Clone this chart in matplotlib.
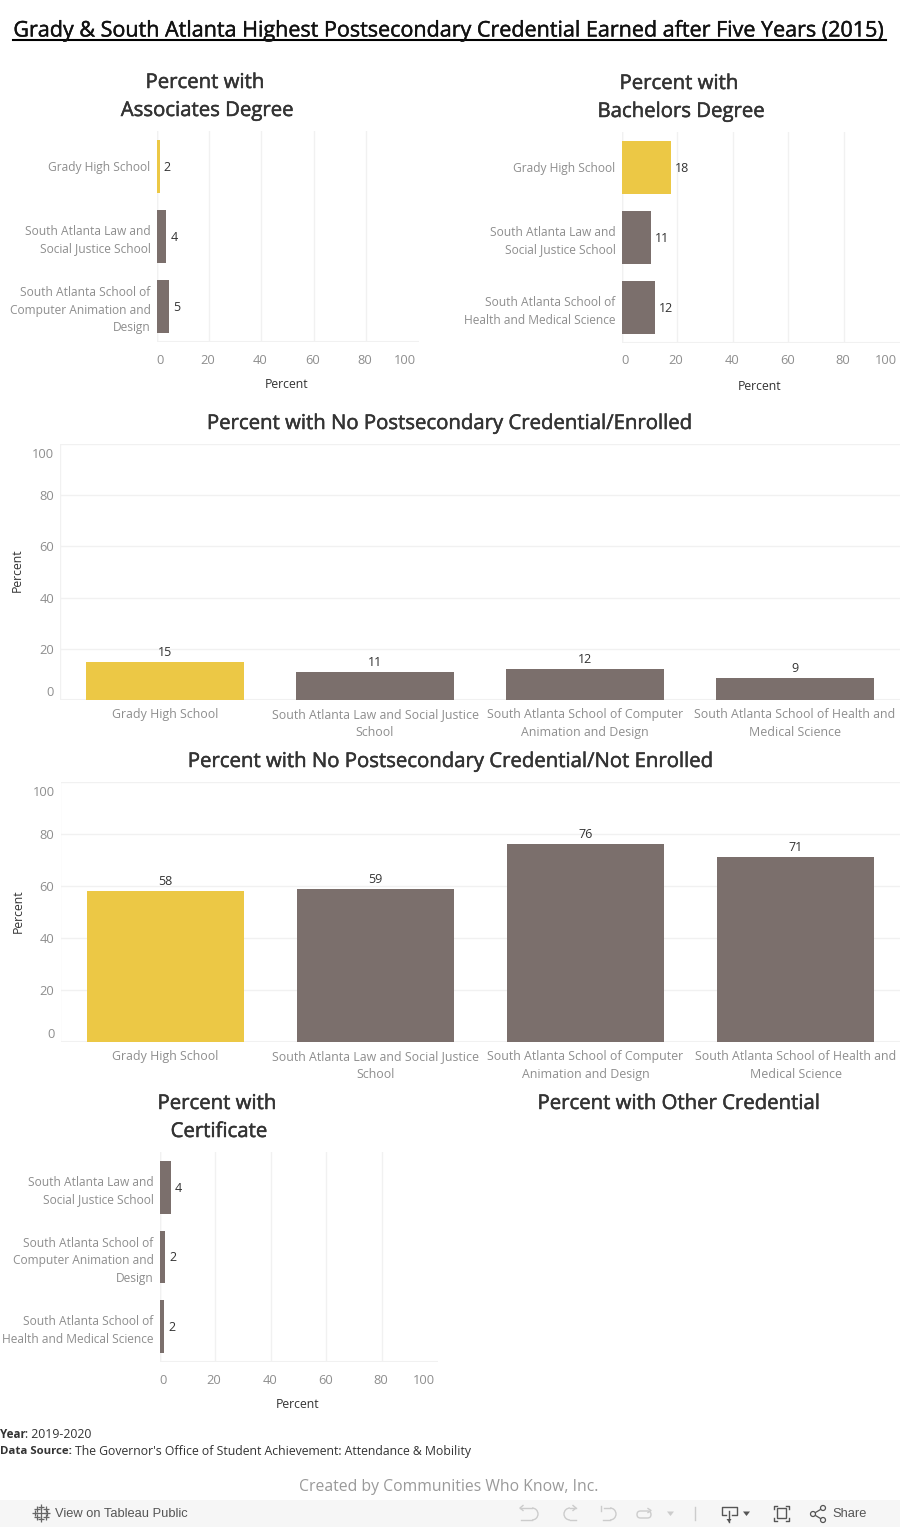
import matplotlib
matplotlib.use('AGG')
import matplotlib.pyplot as plt
import matplotlib.patheffects as pe
from matplotlib.patches import Rectangle, Circle, Arc, FancyBboxPatch, Polygon

W, H = 900, 1527

plt.rcParams['font.family'] = ['Open Sans', 'DejaVu Sans']

YELLOW = '#ecc845'
BROWN = '#7b6f6c'
GRID = '#f1f1f1'
GREY_TXT = '#8e8e8e'
DARK_TXT = '#333333'

# ---- data
assoc_names = ['Grady High School', 'South Atlanta Law and\nSocial Justice School',
               'South Atlanta School of\nComputer Animation and\nDesign']
assoc_values = [1.2, 3.8, 4.6]
assoc_labels = ['2', '4', '5']

bach_names = ['Grady High School', 'South Atlanta Law and\nSocial Justice School',
              'South Atlanta School of\nHealth and Medical Science']
bach_values = [17.7, 10.6, 12.0]
bach_labels = ['18', '11', '12']

enrolled_names = ['Grady High School', 'South Atlanta Law and Social Justice\nSchool',
                  'South Atlanta School of Computer\nAnimation and Design',
                  'South Atlanta School of Health and\nMedical Science']
enrolled_values = [14.8, 10.9, 12.0, 8.6]
enrolled_labels = ['15', '11', '12', '9']

not_enrolled_values = [58, 59, 76, 71]
not_enrolled_labels = ['58', '59', '76', '71']

cert_names = ['South Atlanta Law and\nSocial Justice School',
              'South Atlanta School of\nComputer Animation and\nDesign',
              'South Atlanta School of\nHealth and Medical Science']
cert_values = [4.0, 2.1, 1.6]
cert_labels = ['4', '2', '2']

axis_ticks = [0, 20, 40, 60, 80, 100]

fig = plt.figure(figsize=(W / 100, H / 100), dpi=100, facecolor='white')


# axes placed by pixel box, y measured from the top of the picture
def make_axes(left, top, right, bottom):
  return fig.add_axes([left / W, 1 - bottom / H, (right - left) / W, (bottom - top) / H])


def clean(ax):
  for s in ax.spines.values():
    s.set_visible(False)
  ax.set_axisbelow(True)
  ax.tick_params(length=0)


# horizontal bar panel
def hbar_panel(box, names, values, labels, colors, xlabel_x, xlabel_y):
  ax = make_axes(*box)
  clean(ax)
  pos = list(range(len(names)))
  ax.barh(pos, values, height=0.757, color=colors, zorder=3)
  ax.set_xlim(0, 100)
  ax.set_ylim(2.507, -0.507)
  ax.set_yticks(pos)
  ax.set_yticklabels(names, fontsize=8.65, color=GREY_TXT, linespacing=1.45)
  ax.tick_params(axis='y', pad=4.3)
  ax.set_xticks(axis_ticks[:-1])
  ax.set_xticklabels([])
  ax.grid(axis='x', color=GRID, lw=1)
  ax.axhline(2.507, color=GRID, lw=1.5, zorder=1)
  ax.axvline(0, color=GRID, lw=1, zorder=1)
  for p, v, t in zip(pos, values, labels):
    ax.annotate(t, (v, p), xytext=(3, -0.5), textcoords='offset points', va='center',
                fontsize=9, color=DARK_TXT, zorder=4)
  # tick labels stay inside the axis span, as in the original
  trans = ax.get_xaxis_transform()
  for t in axis_ticks:
    ha = 'left' if t == 0 else ('right' if t == 100 else 'center')
    ax.annotate(str(t), (t, 0), xycoords=trans, xytext=(0 if t == 0 else (-3 if t == 100 else -1), -18),
                textcoords='offset pixels', ha=ha, va='center', fontsize=9.3, color=GREY_TXT)
  over.text(xlabel_x, xlabel_y, 'Percent', ha='center', va='center', fontsize=8.8, color=DARK_TXT)
  return ax


# vertical bar panel
def vbar_panel(box, names, values, labels, ylabel_x, ylabel_y):
  ax = make_axes(*box)
  clean(ax)
  pos = list(range(len(names)))
  ax.bar(pos, values, width=0.75, color=[YELLOW, BROWN, BROWN, BROWN], zorder=3)
  ax.set_xlim(-0.5, 3.5)
  ax.set_ylim(0, 100)
  ax.set_yticks(axis_ticks)
  ax.set_yticklabels([])
  ax.set_xticks(pos)
  ax.set_xticklabels([])
  ax.grid(axis='y', color=GRID, lw=1)
  ax.axvline(-0.5, color=GRID, lw=1, zorder=1)
  ax.axhline(0, color=GRID, lw=1.5, zorder=1)
  trans = ax.get_yaxis_transform()
  for t in axis_ticks:
    va = 'bottom' if t == 0 else ('top' if t == 100 else 'center')
    off = 1 if t == 0 else (-4 if t == 100 else -1.5)
    ax.annotate(str(t), (0, t), xycoords=trans, xytext=(-6, off), textcoords='offset pixels',
                ha='right', va=va, fontsize=9.3, color=GREY_TXT)
  for p, v, t in zip(pos, values, labels):
    ax.annotate(t, (p, v), xytext=(0, 3), textcoords='offset pixels', ha='center', va='bottom',
                fontsize=9, color=DARK_TXT)
  # category names, one text per line so the baselines are regular
  trans2 = ax.get_xaxis_transform()
  for p, n in zip(pos, names):
    for i, line in enumerate(n.split('\n')):
      ax.annotate(line, (p, 0), xycoords=trans2, xytext=(0, -18 - 18 * i), textcoords='offset pixels',
                  ha='center', va='baseline', fontsize=8.9, color=GREY_TXT, annotation_clip=False)
  over.text(ylabel_x, ylabel_y, 'Percent', rotation=90, ha='center', va='center',
            fontsize=8.8, color=DARK_TXT)
  return ax


# overlay in pixel coordinates for titles, footer and toolbar
over = fig.add_axes([0, 0, 1, 1], zorder=5)
over.set_xlim(0, W)
over.set_ylim(H, 0)
over.axis('off')
over.patch.set_alpha(0)

# the original titles are a little heavier than Open Sans regular
thicker = [pe.withStroke(linewidth=0.35, foreground=DARK_TXT)]

# main title
over.text(449.5, 31, 'Grady & South Atlanta Highest Postsecondary Credential Earned after Five Years (2015)',
          ha='center', va='center', fontsize=15.5, color='#111111',
          path_effects=[pe.withStroke(linewidth=0.3, foreground='#111111')])
over.plot([13, 886], [40, 40], color='black', lw=1.5)

# panel titles
title_style = dict(ha='center', va='center', fontsize=14.65, color=DARK_TXT, path_effects=thicker)
over.text(205, 83, 'Percent with', **title_style)
over.text(207, 111, 'Associates Degree', **title_style)
over.text(679, 84, 'Percent with', **title_style)
over.text(681, 112, 'Bachelors Degree', **title_style)
over.text(450, 424, 'Percent with No Postsecondary Credential/Enrolled', **title_style)
over.text(451, 762, 'Percent with No Postsecondary Credential/Not Enrolled', **title_style)
over.text(217, 1104, 'Percent with', **title_style)
over.text(219, 1132, 'Certificate', **title_style)
over.text(679, 1104, 'Percent with Other Credential', **title_style)

hbar_panel((156.5, 131, 418.5, 342), assoc_names, assoc_values, assoc_labels,
           [YELLOW, BROWN, BROWN], 287, 385)
hbar_panel((621.5, 132, 899.5, 343), bach_names, bach_values, bach_labels,
           [YELLOW, BROWN, BROWN], 760, 386)
vbar_panel((60, 444, 900, 700), enrolled_names, enrolled_values, enrolled_labels, 17, 570)
vbar_panel((60.5, 782, 900.5, 1042), enrolled_names, not_enrolled_values, not_enrolled_labels, 18, 911)
hbar_panel((159.5, 1152, 437.5, 1362), cert_names, cert_values, cert_labels,
           [BROWN, BROWN, BROWN], 298, 1405)

# footer notes
over.text(0, 1434, 'Year', fontsize=8.4, fontweight='bold', color=DARK_TXT, va='center')
over.text(25, 1434, ': 2019-2020', fontsize=8.85, color=DARK_TXT, va='center')
over.text(0, 1452, 'Data Source:', fontsize=8.2, fontweight='bold', color=DARK_TXT, va='center')
over.text(75, 1452, "The Governor's Office of Student Achievement: Attendance & Mobility",
          fontsize=8.85, color=DARK_TXT, va='center')
over.text(449, 1487, 'Created by Communities Who Know, Inc.', ha='center', va='center',
          fontsize=11.3, color='#9a9a9a')

# tableau toolbar
over.add_patch(Rectangle((0, 1500), W, 27, color='#f6f6f6', lw=0))
tool_font = ['Liberation Sans', 'DejaVu Sans']
over.text(55, 1514, 'View on Tableau Public', fontsize=9.3, color='#555555', va='center', family=tool_font)
over.text(832, 1514, 'Share', fontsize=9.3, color='#555555', va='center', family=tool_font)

LIGHT = '#cccccc'
ICON = '#555555'
# logo
for x, y, s in [(41, 1513, 8), (41, 1507, 5), (41, 1519, 5), (35, 1513, 5), (47, 1513, 5),
                (36.5, 1509, 4), (45.5, 1509, 4), (36.5, 1517, 4), (45.5, 1517, 4)]:
  over.plot([x], [y], marker='+', ms=s, mew=0.9, color='#666666')
# undo, redo, revert
over.plot([520, 532], [1508, 1508], color=LIGHT, lw=1)
over.plot([532, 521], [1520, 1520], color=LIGHT, lw=1)
over.add_patch(Arc((532, 1514), 12, 12, theta1=-90, theta2=90, color=LIGHT, lw=1))
over.plot([523, 520, 523], [1505.5, 1508, 1510.5], color=LIGHT, lw=1)
over.plot([576, 570], [1508, 1508], color=LIGHT, lw=1)
over.plot([570, 576], [1520, 1520], color=LIGHT, lw=1)
over.add_patch(Arc((570, 1514), 12, 12, theta1=90, theta2=270, color=LIGHT, lw=1))
over.plot([573, 576, 573], [1505.5, 1508, 1510.5], color=LIGHT, lw=1)
over.plot([601, 601], [1506, 1511], color=LIGHT, lw=1)
over.plot([604, 610], [1508, 1508], color=LIGHT, lw=1)
over.plot([610, 603], [1520, 1520], color=LIGHT, lw=1)
over.add_patch(Arc((610, 1514), 12, 12, theta1=-90, theta2=90, color=LIGHT, lw=1))
# refresh and its menu
over.add_patch(FancyBboxPatch((637, 1511), 14, 7, boxstyle='round,pad=0,rounding_size=3.5',
                              fill=False, ec=LIGHT, lw=1))
over.plot([648, 651, 648], [1508.5, 1510.5, 1512.5], color=LIGHT, lw=1)
over.add_patch(Polygon([(667, 1511.5), (674, 1511.5), (670.5, 1516)], color=LIGHT, lw=0))
over.plot([695, 695], [1507, 1520], color=LIGHT, lw=1)
# device preview
over.plot([726, 722, 722, 736.5, 736.5, 732], [1515, 1515, 1507, 1507, 1515, 1515], color=ICON, lw=1)
over.plot([729, 729], [1511, 1522], color=ICON, lw=1)
over.add_patch(Polygon([(726.5, 1519), (731.5, 1519), (729, 1522.5)], color=ICON, lw=0))
over.add_patch(Polygon([(743, 1511.5), (750, 1511.5), (746.5, 1516)], color=ICON, lw=0))
# fullscreen
over.add_patch(Rectangle((777, 1508), 9, 10, fill=False, ec=ICON, lw=1))
for x, d in [(773.5, 1), (789, -1)]:
  for y, e in [(1506, 1), (1521, -1)]:
    over.plot([x + 3 * d, x, x], [y, y, y + 3 * e], color=ICON, lw=1)
# share
over.plot([823, 813, 823], [1508, 1514, 1520], color=ICON, lw=0.9)
for x, y in [(813, 1514), (823, 1508), (823, 1520)]:
  over.add_patch(Circle((x, y), 2.5, fc='#f6f6f6', ec=ICON, lw=0.9, zorder=4))

fig.savefig('out.png', dpi=100)
